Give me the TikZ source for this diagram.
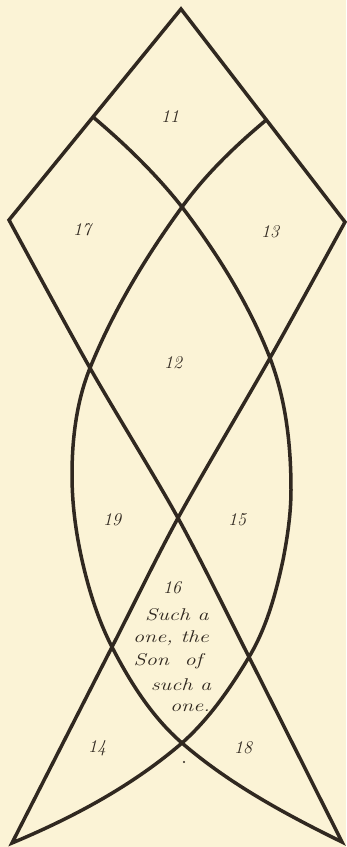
\documentclass[tikz,border=0pt]{standalone}
\usepackage{graphicx}
\definecolor{paper}{RGB}{251,243,214}
\definecolor{ink}{RGB}{48,40,32}
\begin{document}
\begin{tikzpicture}[x=1pt,y=-1pt,
  stroke/.style={draw=ink,line width=3.5pt,line join=miter,miter limit=6},
  num/.style={font=\fontsize{18}{20}\selectfont\itshape,text=ink,inner sep=0pt},
  scr/.style={font=\fontsize{17}{18}\selectfont\itshape,text=ink,inner sep=0pt}]
\fill[paper] (0,0) rectangle (346,847);
\useasboundingbox (0,0) rectangle (346,847);
\draw[stroke]
  (93,117) .. controls (125,144) and (156,174) .. (182,207)
  .. controls (217,253) and (249,304) .. (270,358)
  .. controls (286,400) and (291,445) .. (291,490)
  .. controls (291,513) and (287.5,537) .. (283,560)
  .. controls (276,593) and (266.5,628) .. (249,657)
  .. controls (230.5,688) and (209,719) .. (182,743)
  .. controls (132,786) and (73,817.5) .. (12,843)
  -- plot[smooth,tension=0.5] coordinates {(12,843) (112,647) (178,518) (270,358) (345,222)}
  -- (181,9) -- (9,220)
  -- plot[smooth,tension=0.5] coordinates {(9,220) (90,368) (178,518) (249,657) (342,842)}
  .. controls (285.8,814.4) and (229.5,784) .. (182,743)
  .. controls (152,717) and (130,682) .. (112,647)
  .. controls (98,619.7) and (88.8,590) .. (82,560)
  .. controls (75.7,532) and (72,503.5) .. (72,475)
  .. controls (72,439) and (76.5,401.4) .. (90,368)
  .. controls (113.3,310.5) and (145.6,257) .. (182,207)
  .. controls (205.5,174.6) and (234,147) .. (265,121);
\node[num] (n11) at (170,117) {11};
\node[num] (n17) at (82,230) {17};
\node[num] (n13) at (270,232) {13};
\node[num] (n12) at (173,363) {12};
\node[num] (n19) at (112,520) {19};
\node[num] (n15) at (237,520) {15};
\node[num] (n16) at (172,588) {16};
\node[scr] (t1) at (177,615) {\scalebox{1.3}[1]{Such a}};
\node[scr] (t2) at (171,638) {\scalebox{1.3}[1]{one, the}};
\node[scr] (t3) at (168,661) {\scalebox{1.3}[1]{Son \ of}};
\node[scr] (t4) at (181,685) {\scalebox{1.3}[1]{such a}};
\node[scr] (t5) at (190,708) {\scalebox{1.3}[1]{one.}};
\node[num] (n14) at (97,748) {14};
\node[num] (n18) at (243,748) {18};
\fill[ink] (184,762) circle (1.1pt);
\end{tikzpicture}
\end{document}
